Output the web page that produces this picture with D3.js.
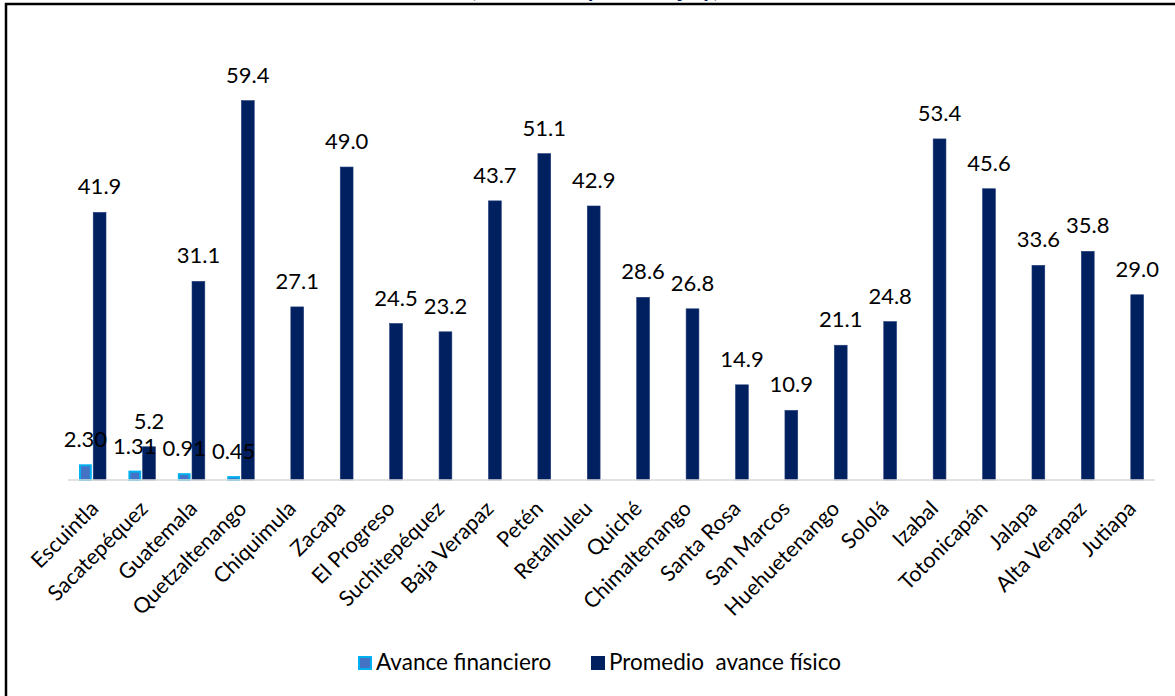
<!DOCTYPE html>
<html>
<head>
<meta charset="utf-8">
<script src="https://cdn.jsdelivr.net/npm/d3@7"></script>
<style>
  body { margin: 0; background: #fff; }
  svg { display: block; font-family: Lato, "Open Sans", sans-serif; }
</style>
</head>
<body>
<svg id="chart" width="1175" height="696"></svg>
<script>
// departamentos
var categories = ['Escuintla', 'Sacatepéquez', 'Guatemala', 'Quetzaltenango', 'Chiquimula', 'Zacapa',
  'El Progreso', 'Suchitepéquez', 'Baja Verapaz', 'Petén', 'Retalhuleu', 'Quiché', 'Chimaltenango',
  'Santa Rosa', 'San Marcos', 'Huehuetenango', 'Sololá', 'Izabal', 'Totonicapán', 'Jalapa',
  'Alta Verapaz', 'Jutiapa'];
var seriesNames = ['Avance financiero', 'Promedio  avance físico'];
var financiero = [2.30, 1.31, 0.91, 0.45, null, null, null, null, null, null, null, null, null,
  null, null, null, null, null, null, null, null, null];
var fisico = [41.9, 5.2, 31.1, 59.4, 27.1, 49.0, 24.5, 23.2, 43.7, 51.1, 42.9, 28.6, 26.8,
  14.9, 10.9, 21.1, 24.8, 53.4, 45.6, 33.6, 35.8, 29.0];
var titleText = '(Avance en porcentaje y)';

var svg = d3.select('#chart');
var fillCol = ['#4472C4', '#002060'];
var strokeCol = ['#00B0F0', '#1f3a78'];

// frame (only top and left visible in original)
svg.append('rect')
  .attr('x', 6).attr('y', 4)
  .attr('width', 1200).attr('height', 720)
  .attr('fill', 'none').attr('stroke', '#000').attr('stroke-width', 2.5);

// title, cut off at the top like the original
svg.append('text')
  .attr('x', 595).attr('y', -3.5)
  .attr('text-anchor', 'middle')
  .attr('font-size', 23).attr('font-weight', 'bold')
  .attr('fill', '#002060')
  .text(titleText);

var x = d3.scaleBand().domain(categories).range([68, 1155]).padding(0);
var xs = d3.scaleBand().domain([0, 1]).range([11, 38]).paddingInner(0.1);
var y = d3.scaleLinear().domain([0, 70]).range([480, 32.9]);

var rows = categories.map(function (c, i) {
  return { cat: c, vals: [financiero[i], fisico[i]] };
});

function present(d) {
  return d.vals.map(function (v, k) { return { k: k, v: v }; })
    .filter(function (e) { return e.v != null; });
}

var groups = svg.append('g').selectAll('g')
  .data(rows).enter().append('g')
  .attr('transform', function (d) { return 'translate(' + x(d.cat) + ',0)'; });

groups.selectAll('rect')
  .data(present)
  .enter().append('rect')
  .attr('x', function (e) { return xs(e.k) + (e.k === 0 ? 1 : 0); })
  .attr('y', function (e) { return y(e.v); })
  .attr('width', function (e) { return xs.bandwidth() - (e.k === 0 ? 2 : 0); })
  .attr('height', function (e) { return y(0) - y(e.v); })
  .attr('fill', function (e) { return fillCol[e.k]; })
  .attr('stroke', function (e) { return strokeCol[e.k]; })
  .attr('stroke-width', function (e) { return e.k === 0 ? 2 : 0.6; });

groups.selectAll('text.val')
  .data(present)
  .enter().append('text')
  .attr('class', 'val')
  .attr('x', function (e) { return xs(e.k) + xs.bandwidth() / 2; })
  .attr('y', function (e) { return y(e.v) - 18; })
  .attr('text-anchor', 'middle')
  .attr('font-size', 22)
  .attr('fill', '#000')
  .text(function (e) { return e.k === 0 ? e.v.toFixed(2) : e.v.toFixed(1); });

// baseline
svg.append('line')
  .attr('x1', 68).attr('x2', 1155)
  .attr('y1', y(0)).attr('y2', y(0))
  .attr('stroke', '#d9d9d9').attr('stroke-width', 1.5);

// category labels
svg.append('g').selectAll('text')
  .data(categories).enter().append('text')
  .attr('text-anchor', 'end')
  .attr('font-size', 21.5)
  .attr('fill', '#000')
  .attr('transform', function (d) {
    return 'translate(' + (x(d) + x.bandwidth() / 2 + 7) + ',' + 510 + ') rotate(-45)';
  })
  .text(function (d) { return d; });

// legend
var legend = svg.append('g');
var legX = [358, 591];
seriesNames.forEach(function (s, k) {
  legend.append('rect')
    .attr('x', legX[k] + (k === 0 ? 1 : 0)).attr('y', 656 + (k === 0 ? 1 : 0))
    .attr('width', k === 0 ? 12 : 14).attr('height', k === 0 ? 12 : 14)
    .attr('fill', fillCol[k])
    .attr('stroke', k === 0 ? strokeCol[0] : 'none').attr('stroke-width', 2);
  legend.append('text')
    .attr('x', legX[k] + 18).attr('y', 670)
    .attr('font-size', 22.5)
    .attr('fill', '#000')
    .attr('xml:space', 'preserve')
    .style('white-space', 'pre')
    .text(s);
});
</script>
</body>
</html>
